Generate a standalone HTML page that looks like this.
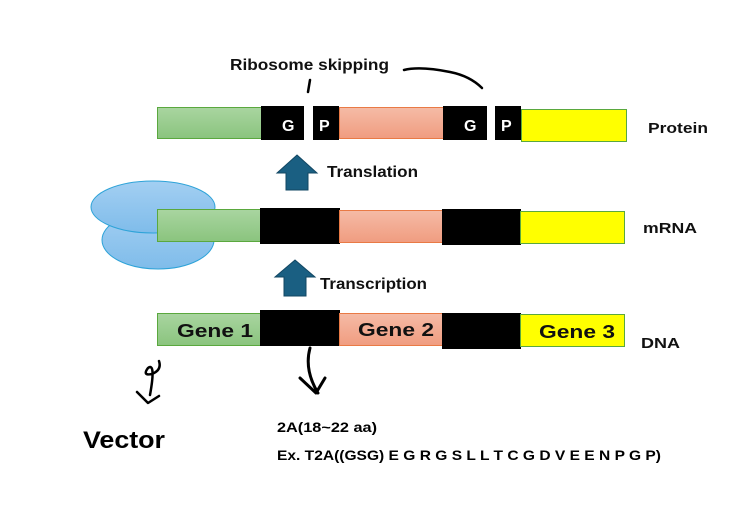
<!DOCTYPE html>
<html><head><style>
body{margin:0;background:#fff;}
text{font-family:"Liberation Sans","Noto Sans CJK KR",sans-serif;font-weight:bold;}
</style></head><body>
<svg width="730" height="508" xmlns="http://www.w3.org/2000/svg">
<defs>
<linearGradient id="gr" x1="0" y1="0" x2="0" y2="1"><stop offset="0" stop-color="#a9d5a0"/><stop offset="1" stop-color="#8ac47e"/></linearGradient>
<linearGradient id="sa" x1="0" y1="0" x2="0" y2="1"><stop offset="0" stop-color="#f5bba6"/><stop offset="1" stop-color="#f09c80"/></linearGradient>
<linearGradient id="bl" x1="0" y1="0" x2="0" y2="1"><stop offset="0" stop-color="#a3cff2"/><stop offset="1" stop-color="#7fbcea"/></linearGradient>
</defs>
<ellipse cx="158" cy="240" rx="56" ry="29" fill="url(#bl)" stroke="#2ea3d8" stroke-width="1"/>
<ellipse cx="153" cy="207" rx="62" ry="26" fill="url(#bl)" stroke="#2ea3d8" stroke-width="1"/>
<rect x="157.5" y="107.5" width="104" height="31" fill="url(#gr)" stroke="#5aa83e"/>
<rect x="261" y="106" width="43" height="34" fill="#000"/>
<rect x="313" y="106" width="26" height="34" fill="#000"/>
<rect x="339.5" y="107.5" width="104" height="31" fill="url(#sa)" stroke="#e97a45"/>
<rect x="443" y="106" width="44" height="34" fill="#000"/>
<rect x="495" y="106" width="26" height="34" fill="#000"/>
<rect x="521.5" y="109.5" width="105" height="32" fill="#ffff00" stroke="#5aa83e"/>
<text x="282" y="131" fill="#fff" font-size="16">G</text>
<text x="319" y="131" fill="#fff" font-size="16">P</text>
<text x="464" y="131" fill="#fff" font-size="16">G</text>
<text x="501" y="131" fill="#fff" font-size="16">P</text>
<rect x="157.5" y="209.5" width="104" height="32" fill="url(#gr)" stroke="#5aa83e"/>
<rect x="260" y="208" width="80" height="36" fill="#000"/>
<rect x="339.5" y="210.5" width="104" height="32" fill="url(#sa)" stroke="#e97a45"/>
<rect x="442" y="209" width="79" height="36" fill="#000"/>
<rect x="520.5" y="211.5" width="104" height="32" fill="#ffff00" stroke="#5aa83e"/>
<rect x="157.5" y="313.5" width="104" height="32" fill="url(#gr)" stroke="#5aa83e"/>
<rect x="260" y="310" width="80" height="36" fill="#000"/>
<rect x="339.5" y="313.5" width="104" height="32" fill="url(#sa)" stroke="#e97a45"/>
<rect x="442" y="313" width="79" height="36" fill="#000"/>
<rect x="520.5" y="314.5" width="104" height="32" fill="#ffff00" stroke="#5aa83e"/>
<text x="177" y="337" font-size="18" fill="#111" textLength="76" lengthAdjust="spacingAndGlyphs">Gene 1</text>
<text x="358" y="336" font-size="18" fill="#111" textLength="76" lengthAdjust="spacingAndGlyphs">Gene 2</text>
<text x="539" y="338" font-size="18" fill="#111" textLength="76" lengthAdjust="spacingAndGlyphs">Gene 3</text>
<polygon points="297,155 317,173 308,173 308,190 286,190 286,173 277,173" fill="#1a5f82" stroke="#124763"/>
<polygon points="295,260 315,277 306,277 306,296 284,296 284,277 275,277" fill="#1a5f82" stroke="#124763"/>
<text x="327" y="177" font-size="16" fill="#111" textLength="91" lengthAdjust="spacingAndGlyphs">Translation</text>
<text x="320" y="289" font-size="16" fill="#111" textLength="107" lengthAdjust="spacingAndGlyphs">Transcription</text>
<text x="230" y="70" font-size="16" fill="#111" textLength="159" lengthAdjust="spacingAndGlyphs">Ribosome skipping</text>
<text x="648" y="133" font-size="15" fill="#111" textLength="60" lengthAdjust="spacingAndGlyphs">Protein</text>
<text x="643" y="233" font-size="15" fill="#111" textLength="54" lengthAdjust="spacingAndGlyphs">mRNA</text>
<text x="641" y="348" font-size="15" fill="#111" textLength="39" lengthAdjust="spacingAndGlyphs">DNA</text>
<path d="M310,80 L308,92" stroke="#000" stroke-width="2.5" fill="none" stroke-linecap="round"/>
<path d="M404,70 Q420,66 450,72 Q470,76 482,88" stroke="#000" stroke-width="2.5" fill="none" stroke-linecap="round"/>
<path d="M310,348 Q304,370 318,393 M300,378 L316,393 L325,378" stroke="#000" stroke-width="3" fill="none" stroke-linecap="round" stroke-linejoin="round"/>
<path d="M159,361 Q162,370 152,374 Q142,376 148,368 Q156,362 150,395 M137,392 L148,403 L159,396" stroke="#000" stroke-width="2.5" fill="none" stroke-linecap="round" stroke-linejoin="round"/>
<text x="83" y="448" font-size="24" fill="#000" textLength="82" lengthAdjust="spacingAndGlyphs">Vector</text>
<text x="277" y="432" font-size="14" fill="#000" textLength="100" lengthAdjust="spacingAndGlyphs">2A(18~22 aa)</text>
<text x="277" y="460" font-size="14" fill="#000" textLength="384" lengthAdjust="spacingAndGlyphs">Ex. T2A((GSG) E G R G S L L T C G D V E E N P G P)</text>
</svg>
</body></html>
